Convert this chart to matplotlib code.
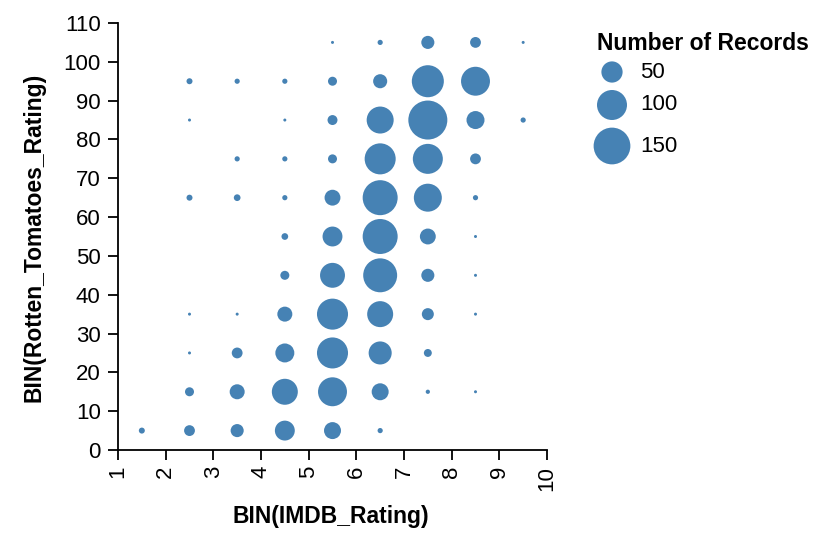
import matplotlib
matplotlib.use('Agg')
import matplotlib.pyplot as plt
import numpy as np

plt.rcParams['font.family'] = ['Liberation Sans', 'DejaVu Sans']

# bin centres and record counts
imdb_bin = [5.5, 6.5, 7.5, 8.5, 9.5,
            2.5, 3.5, 4.5, 5.5, 6.5, 7.5, 8.5,
            2.5, 4.5, 5.5, 6.5, 7.5, 8.5, 9.5,
            3.5, 4.5, 5.5, 6.5, 7.5, 8.5,
            2.5, 3.5, 4.5, 5.5, 6.5, 7.5, 8.5,
            4.5, 5.5, 6.5, 7.5, 8.5,
            4.5, 5.5, 6.5, 7.5, 8.5,
            2.5, 3.5, 4.5, 5.5, 6.5, 7.5, 8.5,
            2.5, 3.5, 4.5, 5.5, 6.5, 7.5,
            2.5, 3.5, 4.5, 5.5, 6.5, 7.5, 8.5,
            1.5, 2.5, 3.5, 4.5, 5.5, 6.5]
rt_bin = [105] * 5 + [95] * 7 + [85] * 7 + [75] * 6 + [65] * 7 + [55] * 5 + \
         [45] * 5 + [35] * 7 + [25] * 6 + [15] * 7 + [5] * 6
records = [1, 3, 19, 13, 1,
           4, 3, 3, 9, 22, 114, 93,
           1, 1, 11, 81, 169, 36, 3,
           3, 3, 9, 107, 100, 13,
           4, 5, 3, 28, 136, 87, 3,
           5, 44, 136, 28, 1,
           9, 69, 128, 19, 1,
           1, 1, 25, 107, 75, 16, 1,
           1, 13, 40, 107, 59, 7,
           9, 25, 75, 93, 32, 2, 1,
           4, 13, 19, 44, 32, 3]
legend_values = [50, 100, 150]

color = '#4682b4'
W, H = 814, 533
fig = plt.figure(figsize=(W / 100, H / 100), dpi=100)


def marker_size(n):
    # area proportional to count: diameter ~ 3 px * sqrt(n)
    return (3 * 0.72) ** 2 * np.asarray(n, dtype=float)


ax = fig.add_axes([118 / W, 1 - 450 / H, (547 - 118) / W, (450 - 23) / H])
ax.scatter(imdb_bin, rt_bin, s=marker_size(records), color=color,
           linewidths=0, zorder=3)
ax.set_xlim(1, 10)
ax.set_ylim(0, 110)
ax.set_xticks(range(1, 11))
ax.set_yticks(range(0, 111, 10))
for side in ['top', 'right']:
    ax.spines[side].set_visible(False)
for side in ['left', 'bottom']:
    ax.spines[side].set_linewidth(1.3)
ax.tick_params(length=7.5, width=1.3, labelsize=16)
ax.tick_params(axis='y', pad=5)
ax.tick_params(axis='x', pad=4)
plt.setp(ax.get_xticklabels(), rotation=90)

# axis titles
fig.text(331 / W, 1 - 516 / H, 'BIN(IMDB_Rating)', fontsize=16.5,
         fontweight='bold', ha='center', va='center')
fig.text(34 / W, 1 - 237 / H, 'BIN(Rotten_Tomatoes_Rating)', fontsize=16.5,
         fontweight='bold', ha='center', va='center', rotation=90)

# size legend
fig.text(597 / W, 1 - 43 / H, 'Number of Records', fontsize=16.5,
         fontweight='bold', va='center', ha='left')
lax = fig.add_axes([0, 0, 1, 1])
lax.set_xlim(0, W)
lax.set_ylim(H, 0)
lax.axis('off')
leg_y = [72, 105, 146]
lax.scatter([612] * 3, leg_y, s=marker_size(legend_values), color=color,
            linewidths=0)
for v, y in zip(legend_values, leg_y):
    lax.text(640, y, str(v), fontsize=16, va='center', ha='left')

fig.savefig('out.png', dpi=100)
